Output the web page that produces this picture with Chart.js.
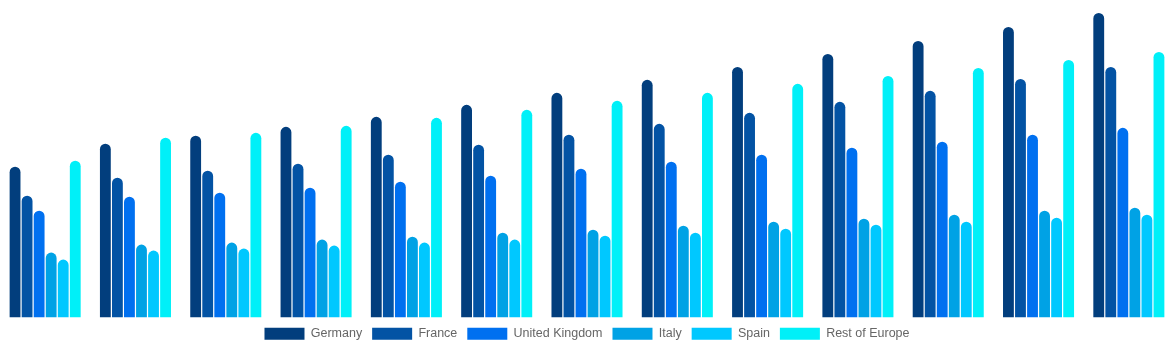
<!DOCTYPE html>
<html>
<head>
<meta charset="utf-8">
<script src="https://cdn.jsdelivr.net/npm/chart.js@4/dist/chart.umd.min.js"></script>
<style>
  html, body { margin: 0; padding: 0; background: #fff; }
  #wrap { width: 1174px; height: 350px; }
</style>
</head>
<body>
<div id="wrap"><canvas id="chart"></canvas></div>
<script>
// 13 periods, no labels shown on the axis
const categories = ['1', '2', '3', '4', '5', '6', '7', '8', '9', '10', '11', '12', '13'];

const germany      = [151, 174, 182, 191, 201, 213, 225, 238, 251, 264, 277, 291, 305];
const france       = [122, 140, 147, 154, 163, 173, 183, 194, 205, 216, 227, 239, 251];
const unitedKingdom = [107, 121, 125, 130, 136, 142, 149, 156, 163, 170, 176, 183, 190];
const italy        = [65, 73, 75, 78, 81, 85, 88, 92, 96, 99, 103, 107, 110];
const spain        = [58, 67, 69, 72, 75, 78, 82, 85, 89, 93, 96, 100, 103];
const restOfEurope = [157, 180, 185, 192, 200, 208, 217, 225, 234, 242, 250, 258, 266];

const seriesNames = ['Germany', 'France', 'United Kingdom', 'Italy', 'Spain', 'Rest of Europe'];
const seriesColors = ['#023e7d', '#0353a4', '#0070f0', '#00a2e5', '#00c8ff', '#00f0f8'];
const seriesValues = [germany, france, unitedKingdom, italy, spain, restOfEurope];

const datasets = seriesNames.map((name, i) => ({
    label: name,
    data: seriesValues[i],
    backgroundColor: seriesColors[i],
    borderWidth: 0,
    borderRadius: { topLeft: 6, topRight: 6, bottomLeft: 0, bottomRight: 0 },
    borderSkipped: false,
    categoryPercentage: 0.8,
    barPercentage: 0.9
}));

new Chart(document.getElementById('chart').getContext('2d'), {
    type: 'bar',
    data: { labels: categories, datasets: datasets },
    options: {
        responsive: true,
        maintainAspectRatio: false,
        animation: false,
        layout: { padding: 0 },
        scales: {
            x: { display: false },
            y: { display: false, min: 0, max: 318 }
        },
        plugins: {
            tooltip: { enabled: false },
            legend: {
                position: 'bottom',
                labels: {
                    boxWidth: 40,
                    boxHeight: 12,
                    padding: 10,
                    color: '#666',
                    font: { family: 'Liberation Sans, Arial, sans-serif', size: 12.5 }
                }
            }
        }
    }
});
</script>
</body>
</html>
